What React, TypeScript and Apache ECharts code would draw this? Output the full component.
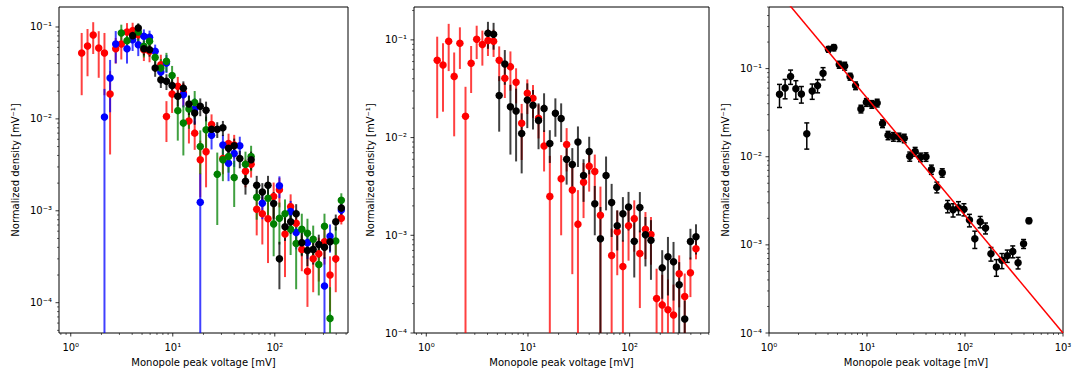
import React, { useEffect, useRef } from "react";
import * as echarts from "echarts";

// Bin centres (mV), shared by all panels
const binX = [1.28, 1.46, 1.66, 1.88, 2.14, 2.43, 2.76, 3.13, 3.56, 4.04, 4.59, 5.21, 5.92, 6.72, 7.64, 8.67, 9.85, 11.2, 12.7, 14.4, 16.4, 18.6, 21.2, 24.0, 27.3, 31.0, 35.2, 40.0, 45.4, 51.6, 58.6, 66.5, 75.5, 85.8, 97.5, 111, 126, 143, 162, 184, 209, 238, 270, 307, 348, 396, 449];

// Panel 1
const p1Red = [0.0521, 0.0621, 0.0818, 0.059, 0.0521, 0.0186, 0.058, 0.0653, 0.0882, 0.0912, 0.0825, 0.0566, 0.0543, null, 0.0389, 0.0106, 0.0186, 0.0226, 0.0191, 0.0095, 0.007, 0.0036, 0.0044, 0.0087, null, 0.0037, 0.0054, 0.0052, null, 0.0027, 0.0032, 0.00104, 0.00093, 0.00082, 0.00143, 0.00169, 0.00056, 0.00111, 0.00073, 0.00038, 0.00022, 0.0003, 0.00034, 0.00046, 0.0002, 0.0003, 0.00083];
const p1RedErr = [0.034, 0.033, 0.031, 0.031, 0.034, 0.0145, 0.018, 0.021, 0.022, 0.02, 0.018, 0.014, 0.013, null, 0.011, 0.005, 0.007, 0.006, 0.0055, 0.0041, 0.0024, 0.0022, 0.0026, 0.0025, null, 0.0012, 0.0015, 0.0015, null, 0.0009, 0.0009, 0.0005, 0.0005, 0.00055, 0.0006, 0.0006, 0.00037, 0.0004, 0.0003, 0.00016, 0.00013, 0.00017, 0.00017, 0.0002, 0.00012, 0.00017, 0.00012];

const p1Blue = [null, null, null, null, 0.0105, 0.0278, 0.0653, null, 0.058, 0.0728, 0.0642, 0.0791, 0.0772, 0.0543, 0.0323, 0.0405, null, null, 0.0183, null, 0.0128, 0.00124, null, 0.00665, null, 0.0052, 0.0033, 0.0042, 0.0051, null, null, null, 0.00121, null, null, 0.00187, null, 0.00098, 0.00058, null, 0.00045, null, null, 0.000152, 0.00053, null, 0.00102];
const p1BlueErr = [null, null, null, null, 0.0107, 0.016, 0.025, null, 0.018, 0.018, 0.016, 0.015, 0.014, 0.01, 0.008, 0.009, null, null, 0.005, null, 0.004, 0.0013, null, 0.002, null, 0.0015, 0.0012, 0.0012, 0.0013, null, null, null, 0.0004, null, null, 0.0005, null, 0.0003, 0.0002, null, 0.00015, null, null, 0.00016, 0.00018, null, 0.00022];

const p1Green = [null, null, null, null, null, null, null, 0.086, 0.071, null, 0.0882, 0.0616, 0.0698, 0.0467, 0.0357, 0.0423, 0.0297, 0.0123, 0.009, 0.0128, 0.0151, 0.005, 0.0076, null, 0.0025, 0.0036, 0.0039, 0.0023, null, 0.0032, 0.0039, 0.0014, null, 0.00137, 0.00072, 0.00083, 0.00093, 0.00063, 0.00044, 0.00063, 0.00057, 0.00049, 0.00026, 0.00068, 0.0000675, 0.00047, 0.0013];
const p1GreenErr = [null, null, null, null, null, null, null, 0.02, 0.018, null, 0.02, 0.015, 0.015, 0.011, 0.009, 0.01, 0.008, 0.0065, 0.005, 0.005, 0.005, 0.0025, 0.003, null, 0.0018, 0.0015, 0.0013, 0.0012, null, 0.0012, 0.0012, 0.0006, null, 0.0006, 0.0004, 0.0004, 0.0004, 0.0003, 0.0003, 0.0003, 0.00025, 0.0002, 0.00014, 0.00025, 0.00008, 0.0002, 0.00025];

const p1Black = [null, null, null, null, null, null, null, null, null, 0.0805, 0.0975, 0.058, 0.0566, 0.0357, 0.0267, 0.0256, 0.0231, 0.0176, 0.0216, 0.0145, 0.0116, 0.0137, 0.0124, 0.0077, 0.0077, 0.008, 0.0048, 0.0051, 0.0037, 0.0021, 0.0036, 0.0019, 0.0016, 0.0019, 0.0012, 0.0003, 0.00067, 0.00076, 0.00093, 0.00045, 0.00037, 0.00038, 0.00043, 0.0004, 0.00046, 0.00076, 0.00107];
const p1BlackErr = [null, null, null, null, null, null, null, null, null, 0.012, 0.012, 0.009, 0.009, 0.007, 0.005, 0.005, 0.005, 0.004, 0.004, 0.0035, 0.003, 0.003, 0.003, 0.0015, 0.0015, 0.0015, 0.001, 0.001, 0.0008, 0.0006, 0.0008, 0.0005, 0.0004, 0.0005, 0.0004, 0.00016, 0.0002, 0.0002, 0.00025, 0.00013, 0.00012, 0.00012, 0.00012, 0.0001, 0.0001, 0.00015, 0.0002];

// Panel 2
const p2Red = [0.0618, 0.0554, 0.0969, 0.0423, 0.0924, 0.0165, 0.0576, 0.1016, 0.0895, 0.0984, 0.0969, 0.0618, 0.0404, 0.0532, 0.0368, 0.014, 0.0284, 0.0252, 0.0158, 0.0082, 0.0025, null, 0.0038, 0.0085, 0.0029, 0.0013, 0.0035, 0.0051, 0.0045, 0.0016, null, 0.00062, 0.00109, 0.00048, 0.00125, 0.00148, 0.00065, 0.00115, 0.00102, 0.000225, 0.000194, 0.000173, 0.000153, 0.000403, 0.000236, 0.000413, 0.000728];
const p2RedErr = [0.046, 0.037, 0.049, 0.032, 0.042, 0.0166, 0.029, 0.038, 0.035, 0.03, 0.03, 0.024, 0.015, 0.023, 0.0144, 0.0081, 0.011, 0.0093, 0.006, 0.0037, 0.004, null, 0.0028, 0.004, 0.0025, 0.0016, 0.002, 0.0023, 0.0022, 0.00155, null, 0.00055, 0.0007, 0.00041, 0.0007, 0.0008, 0.00047, 0.00058, 0.00052, 0.00023, 0.0002, 0.00018, 0.00016, 0.00022, 0.00017, 0.00018, 0.00016];

const p2Black = [null, null, null, null, null, null, null, null, null, 0.117, 0.1144, 0.027, 0.0567, 0.0207, 0.0187, 0.011, 0.0242, 0.0214, 0.015, 0.0199, 0.0087, 0.0177, 0.0157, 0.006, 0.0053, 0.009, 0.0041, 0.0072, 0.0021, 0.00092, 0.0041, 0.00216, 0.00125, 0.00166, 0.00195, 0.00087, 0.00192, 0.00101, 0.00089, null, 0.000464, 0.000602, 0.000535, 0.000311, 0.000139, 0.000865, 0.000966];
const p2BlackErr = [null, null, null, null, null, null, null, null, null, 0.036, 0.035, 0.0155, 0.022, 0.014, 0.013, 0.0067, 0.0117, 0.0093, 0.0074, 0.0085, 0.0032, 0.0075, 0.0067, 0.0027, 0.0025, 0.004, 0.0019, 0.003, 0.0011, 0.00103, 0.0023, 0.0012, 0.00055, 0.0008, 0.00083, 0.0005, 0.00085, 0.00053, 0.00054, null, 0.00024, 0.00036, 0.00032, 0.00022, 0.000076, 0.0003, 0.00033];

// Panel 3
const p3Y = [0.0512, 0.0604, 0.0812, 0.0589, 0.0516, 0.0182, 0.0558, 0.0641, 0.0885, 0.1656, 0.173, 0.111, 0.107, 0.0812, 0.0641, 0.0349, 0.0415, 0.0394, 0.0408, 0.0238, 0.0175, 0.0169, 0.0167, 0.0162, 0.0101, 0.01146, 0.00989, 0.00997, 0.00717, 0.00452, 0.00658, 0.00275, 0.0025, 0.00264, 0.00253, 0.00191, 0.00117, 0.00183, 0.00155, 0.000794, 0.00056, 0.000667, 0.000753, 0.000843, 0.000627, 0.00103, 0.00188];
const p3Err = [0.015, 0.015, 0.015, 0.014, 0.011, 0.006, 0.011, 0.011, 0.014, 0.012, 0.014, 0.01, 0.011, 0.0073, 0.0064, 0.0035, 0.0042, 0.0039, 0.0041, 0.0024, 0.0019, 0.0019, 0.0018, 0.0018, 0.0012, 0.0013, 0.0011, 0.0011, 0.00086, 0.00063, 0.00072, 0.00044, 0.00043, 0.00045, 0.0004, 0.00031, 0.00026, 0.00027, 0.00022, 0.00014, 0.00012, 0.00013, 0.00012, 0.00013, 0.000094, 0.00012, 0.00013];

// Power-law fit line end points (y = x^-4/3)
const fitX = [1, 1000];
const fitY = [1, 0.0001];

// Axis ranges
const xRanges = [[0.767, 522], [0.757, 603], [1, 1000]];
const yRanges = [[4.68e-5, 0.165], [1e-4, 0.217], [1e-4, 0.5]];

const X_NAME = "Monopole peak voltage [mV]";
const Y_NAME = "Normalized density [mV⁻¹]";

const FONT = "DejaVu Sans";
const SUP: Record<string, string> = { "0": "⁰", "1": "¹", "2": "²", "3": "³", "4": "⁴", "5": "⁵", "-": "⁻" };

function powLabel(v: number): string {
  const e = Math.log10(v);
  const r = Math.round(e);
  if (Math.abs(e - r) > 1e-6) return "";
  return "10" + String(r).split("").map((c) => SUP[c] || c).join("");
}

function logTicks(min: number, max: number) {
  const major: number[] = [];
  const minor: number[] = [];
  for (let e = Math.floor(Math.log10(min)) - 1; e <= Math.ceil(Math.log10(max)); e++) {
    for (let m = 1; m <= 9; m++) {
      const v = m * Math.pow(10, e);
      if (v < min * (1 - 1e-9) || v > max * (1 + 1e-9)) continue;
      (m === 1 ? major : minor).push(v);
    }
  }
  return { major, minor };
}

function tickSeries(gi: number) {
  const xr = xRanges[gi];
  const yr = yRanges[gi];
  const xt = logTicks(xr[0], xr[1]);
  const yt = logTicks(yr[0], yr[1]);
  return {
    type: "custom",
    coordinateSystem: "cartesian2d",
    xAxisIndex: gi,
    yAxisIndex: gi,
    clip: false,
    silent: true,
    z: 20,
    data: [[Math.sqrt(xr[0] * xr[1]), Math.sqrt(yr[0] * yr[1])]],
    renderItem: (params: any, api: any) => {
      const cs = params.coordSys;
      const bottom = cs.y + cs.height;
      const left = cs.x;
      const children: any[] = [];
      const addX = (vals: number[], len: number, w: number) =>
        vals.forEach((v) => {
          const px = api.coord([v, yr[0]])[0];
          children.push({ type: "line", shape: { x1: px, y1: bottom, x2: px, y2: bottom + len }, style: { stroke: "#000", lineWidth: w } });
        });
      const addY = (vals: number[], len: number, w: number) =>
        vals.forEach((v) => {
          const py = api.coord([xr[0], v])[1];
          children.push({ type: "line", shape: { x1: left - len, y1: py, x2: left, y2: py }, style: { stroke: "#000", lineWidth: w } });
        });
      addX(xt.major, 3.5, 0.8);
      addX(xt.minor, 2, 0.6);
      addY(yt.major, 3.5, 0.8);
      addY(yt.minor, 2, 0.6);
      return { type: "group", children };
    },
  };
}

function pairs(ys: (number | null)[], errs?: (number | null)[]) {
  const out: number[][] = [];
  ys.forEach((y, i) => {
    if (y == null) return;
    if (errs) out.push([binX[i], y, errs[i] == null ? 0 : (errs[i] as number)]);
    else out.push([binX[i], y]);
  });
  return out;
}

function errSeries(gi: number, ys: (number | null)[], errs: (number | null)[], stroke: string, width: number, cap: number) {
  return {
    type: "custom",
    coordinateSystem: "cartesian2d",
    xAxisIndex: gi,
    yAxisIndex: gi,
    clip: false,
    silent: true,
    encode: { x: 0, y: 1 },
    data: pairs(ys, errs),
    renderItem: (params: any, api: any) => {
      const cs = params.coordSys;
      const x = api.value(0);
      const y = api.value(1);
      const e = api.value(2);
      const topP = api.coord([x, y + e]);
      const px = topP[0];
      let y1 = topP[1];
      let y2 = y - e > 0 ? api.coord([x, y - e])[1] : cs.y + cs.height;
      const capTop = y1 >= cs.y;
      const capBot = y2 <= cs.y + cs.height && y - e > 0;
      y1 = Math.max(y1, cs.y);
      y2 = Math.min(y2, cs.y + cs.height);
      const style = { stroke, lineWidth: width, lineCap: "butt" };
      const children: any[] = [{ type: "line", shape: { x1: px, y1, x2: px, y2 }, style }];
      if (cap > 0) {
        if (capTop) children.push({ type: "line", shape: { x1: px - cap, y1, x2: px + cap, y2: y1 }, style });
        if (capBot) children.push({ type: "line", shape: { x1: px - cap, y1: y2, x2: px + cap, y2 }, style });
      }
      return { type: "group", children };
    },
  };
}

function dotSeries(gi: number, ys: (number | null)[], color: string) {
  return {
    type: "scatter",
    xAxisIndex: gi,
    yAxisIndex: gi,
    symbol: "circle",
    symbolSize: 7.5,
    silent: true,
    itemStyle: { color, opacity: 1 },
    data: pairs(ys),
  };
}

const grids = [
  { left: 59, top: 7, width: 289, height: 326 },
  { left: 414, top: 7, width: 295, height: 326 },
  { left: 769, top: 7, width: 294, height: 326 },
];

function buildOption() {
  const xAxis = [0, 1, 2].map((gi) => ({
    type: "log",
    logBase: 10,
    gridIndex: gi,
    min: xRanges[gi][0],
    max: xRanges[gi][1],
    name: X_NAME,
    nameLocation: "middle",
    nameGap: 24,
    nameTextStyle: { fontFamily: FONT, fontSize: 10, color: "#000" },
    axisLine: { show: false },
    axisTick: { show: false },
    minorTick: { show: false },
    splitLine: { show: false },
    axisLabel: { formatter: powLabel, fontFamily: FONT, fontSize: 10, color: "#000", margin: 9, showMinLabel: true, showMaxLabel: true },
  }));
  const yAxis = [0, 1, 2].map((gi) => ({
    type: "log",
    logBase: 10,
    gridIndex: gi,
    min: yRanges[gi][0],
    max: yRanges[gi][1],
    name: Y_NAME,
    nameLocation: "middle",
    nameGap: 39,
    nameTextStyle: { fontFamily: FONT, fontSize: 10, color: "#000" },
    axisLine: { show: false },
    axisTick: { show: false },
    minorTick: { show: false },
    splitLine: { show: false },
    axisLabel: { formatter: powLabel, fontFamily: FONT, fontSize: 10, color: "#000", margin: 7, showMinLabel: true, showMaxLabel: true },
  }));

  const R = "rgba(255,0,0,0.75)";
  const B = "rgba(0,0,255,0.75)";
  const G = "rgba(0,128,0,0.75)";
  const K = "rgba(0,0,0,0.75)";

  const series: any[] = [
    errSeries(0, p1Red, p1RedErr, R, 2, 0),
    dotSeries(0, p1Red, "#ff0000"),
    errSeries(0, p1Blue, p1BlueErr, B, 2, 0),
    dotSeries(0, p1Blue, "#0000ff"),
    errSeries(0, p1Green, p1GreenErr, G, 2, 0),
    dotSeries(0, p1Green, "#008000"),
    errSeries(0, p1Black, p1BlackErr, K, 2, 0),
    dotSeries(0, p1Black, "#000000"),

    errSeries(1, p2Red, p2RedErr, R, 2, 0),
    dotSeries(1, p2Red, "#ff0000"),
    errSeries(1, p2Black, p2BlackErr, K, 2, 0),
    dotSeries(1, p2Black, "#000000"),

    {
      type: "line",
      xAxisIndex: 2,
      yAxisIndex: 2,
      data: fitX.map((x, i) => [x, fitY[i]]),
      symbol: "none",
      clip: true,
      silent: true,
      lineStyle: { color: "#ff0000", width: 1.5 },
    },
    errSeries(2, p3Y, p3Err, "#000000", 1.5, 2.5),
    dotSeries(2, p3Y, "#000000"),

    tickSeries(0),
    tickSeries(1),
    tickSeries(2),
  ];

  return {
    animation: false,
    backgroundColor: "#ffffff",
    grid: grids.map((g) => ({ ...g, show: true, borderColor: "#000", borderWidth: 1, backgroundColor: "transparent", containLabel: false })),
    xAxis,
    yAxis,
    series,
  };
}

export default function App() {
  const ref = useRef<HTMLDivElement>(null);
  useEffect(() => {
    if (!ref.current) return;
    const chart = echarts.init(ref.current, undefined, { renderer: "svg" });
    chart.setOption(buildOption() as any);
    return () => chart.dispose();
  }, []);
  return <div ref={ref} style={{ position: "absolute", left: 0, top: 0, width: 1079, height: 375, background: "#fff" }} />;
}
